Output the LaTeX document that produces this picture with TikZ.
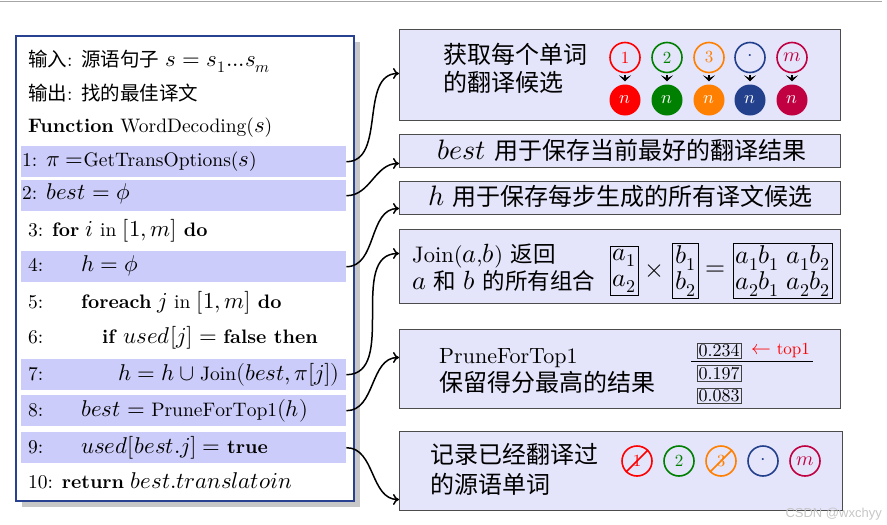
\documentclass[tikz,border=0pt]{standalone}
\usepackage{fontspec}
\usepackage{unicode-math}
\setmainfont{lmroman10-regular.otf}[BoldFont=lmroman10-bold.otf, ItalicFont=lmroman10-italic.otf, BoldItalicFont=lmroman10-bolditalic.otf]
\setmathfont{latinmodern-math.otf}[Scale=1.17]
\usetikzlibrary{arrows.meta}
\newfontfamily\cjk{Noto Sans CJK SC}
\newfontfamily\wmfont{Liberation Sans}
\definecolor{cred}{RGB}{255,0,0}
\definecolor{cgreen}{RGB}{0,128,0}
\definecolor{corange}{RGB}{255,128,0}
\definecolor{cblue}{RGB}{35,64,140}
\definecolor{ccrim}{RGB}{192,0,64}
\definecolor{bandc}{RGB}{204,204,250}
\definecolor{boxc}{RGB}{228,228,250}
\definecolor{framec}{RGB}{40,65,145}
\begin{document}
\begin{tikzpicture}[x=1pt,y=-1pt,
  L/.style={anchor=base west, inner sep=0pt, font=\fontsize{19.5}{24}\selectfont},
  R/.style={anchor=base west, inner sep=0pt, font=\fontsize{24}{28}\selectfont},
  Rs/.style={anchor=base west, inner sep=0pt, font=\fontsize{22.5}{26}\selectfont},
  band/.style={fill=bandc, draw=none, anchor=north west, minimum width=325pt, minimum height=31pt, inner sep=0pt},
  rbox/.style={fill=boxc, draw=black!70, line width=1pt, anchor=north west, inner sep=0pt},
  link/.style={-{To[length=6pt,width=11pt]}, line width=1.5pt, out=0, in=180},
  oc/.style={circle, draw=#1, text=#1, line width=1.6pt, minimum size=30pt, inner sep=0pt, font=\fontsize{17}{20}\selectfont},
  fc/.style={circle, fill=#1, text=white, minimum size=31pt, inner sep=0pt, font=\fontsize{15.5}{20}\selectfont},
  dn/.style={-{Stealth[length=6pt,width=12pt,inset=3pt]}, line width=1.8pt, shorten >=3pt, shorten <=2pt},
  mat/.style={draw=black, line width=0.8pt, inner sep=2.5pt, align=left, font=\fontsize{22}{26}\selectfont},
  score/.style={draw=black!75, line width=0.9pt, inner sep=1.5pt, minimum width=43pt, minimum height=15pt, font=\fontsize{18}{19}\selectfont},
]
\useasboundingbox (0,0) rectangle (887,525);
\draw[gray!70, line width=1.5pt] (0,1.5) -- (882,1.5);

% left panel
\fill[black!22] (22,42) rectangle (360,507);
\node[draw=framec, fill=white, line width=2pt, anchor=north west, minimum width=338pt, minimum height=465pt, inner sep=0pt] (algo) at (15,35) {};
\node[band] (r1) at (21,146) {};
\node[band] (r2) at (21,180) {};
\node[band] (r4) at (21,251) {};
\node[band] (r7) at (21,359) {};
\node[band] (r8) at (21,395) {};
\node[band] (r9) at (21,432) {};

\node[L] (l0) at (28,66.7) {{\cjk 输入}: {\cjk 源语句子} $s=s_1...s_m$};
\node[L] (l00) at (28,100) {{\cjk 输出}: {\cjk 找的最佳译文}};
\node[L] (lf) at (28,132.7) {\textbf{Function} WordDecoding($s$)};
\node[L] (l1) at (22,166.7) {1: $\pi =$GetTransOptions($s$)};
\node[L] (l2) at (22,199.3) {2: $best=\phi$};
\node[L] (l3) at (28,236) {3: \textbf{for} $i$ in $[1,m]$ \textbf{do}};
\node[L] (l4n) at (28,271.7) {4:};
\node[L] (l4) at (81,271.7) {$h=\phi$};
\node[L] (l5n) at (28,308.3) {5:};
\node[L] (l5) at (81,308.3) {\textbf{foreach} $j$ in $[1,m]$ \textbf{do}};
\node[L] (l6n) at (28,343.3) {6:};
\node[L] (l6) at (102,343.3) {\textbf{if} $used[j]=$ \textbf{false then}};
\node[L] (l7n) at (28,380) {7:};
\node[L, anchor=base east] (l7) at (340,380) {$h=h\cup\mathrm{Join}(best,\pi[j])$};
\node[L] (l8n) at (28,416.7) {8:};
\node[L] (l8) at (81,416.7) {$best=\mathrm{PruneForTop1}(h)$};
\node[L] (l9n) at (28,453.3) {9:};
\node[L] (l9) at (81,453.3) {$used[best.j]=$ \textbf{true}};
\node[L] (l10) at (28,488.3) {10: \textbf{return} $best.translatoin$};

% right boxes
\node[rbox, minimum width=441pt, minimum height=91pt] (b1) at (399,29) {};
\node[rbox, minimum width=441pt, minimum height=33pt] (b2) at (399,134) {};
\node[rbox, minimum width=441pt, minimum height=33pt] (b3) at (399,181) {};
\node[rbox, minimum width=441pt, minimum height=74pt] (b4) at (399,229) {};
\node[rbox, minimum width=441pt, minimum height=79pt] (b5) at (399,329) {};
\node[rbox, minimum width=443pt, minimum height=79pt] (b6) at (399,431) {};

% box 1
\node[R] (t1a) at (443,63) {\cjk 获取每个单词};
\node[R] (t1b) at (443,91) {\cjk 的翻译候选};
\node[oc=cred] (o1) at (625,57.5) {1};
\node[oc=cgreen] (o2) at (667,57.5) {2};
\node[oc=corange] (o3) at (709,57.5) {3};
\node[oc=cblue] (o4) at (750,57.5) {$\cdot$};
\node[oc=ccrim] (o5) at (792,57.5) {$m$};
\node[fc=cred] (f1) at (625,100) {$n$};
\node[fc=cgreen] (f2) at (667,100) {$n$};
\node[fc=corange] (f3) at (709,100) {$n$};
\node[fc=cblue] (f4) at (750,100) {$n$};
\node[fc=ccrim] (f5) at (792,100) {$n$};
\foreach \i in {1,...,5} {\draw[dn] (o\i.south) -- (f\i.north);}

% box 2, 3
\node[R] (t2) at (437,159) {$best$ {\cjk 用于保存当前最好的翻译结果}};
\node[R] (t3) at (428,205) {$h$ {\cjk 用于保存每步生成的所有译文候选}};

% box 4
\node[Rs] (t4a) at (412,262) {Join($a$,$b$) {\cjk 返回}};
\node[Rs] (t4b) at (412,289) {$a$ {\cjk 和} $b$ {\cjk 的所有组合}};
\node[mat] (m1) at (624,271) {$a_1$\\$a_2$};
\node[font=\fontsize{22}{26}\selectfont, inner sep=0pt] (x1) at (655,271) {$\times$};
\node[mat] (m2) at (685.5,271) {$b_1$\\$b_2$};
\node[font=\fontsize{22}{26}\selectfont, inner sep=0pt] (e1) at (716,271) {$=$};
\node[mat] (m3) at (783,271) {$a_1b_1\ a_1b_2$\\$a_2b_1\ a_2b_2$};

% box 5
\node[anchor=base west, inner sep=0pt, font=\fontsize{22}{26}\selectfont] (t5a) at (439,363.3) {PruneForTop1};
\node[R] (t5b) at (439,391) {\cjk 保留得分最高的结果};
\node[score] (s1) at (719,351) {0.234};
\node[score] (s2) at (719,373.5) {0.197};
\node[score] (s3) at (719,396) {0.083};
\coordinate (h1) at (691,361);
\coordinate (h2) at (813,361);
\draw[line width=0.9pt] (h1) -- (h2);
\node[anchor=west, inner sep=0pt, text=cred, font=\fontsize{17}{19}\selectfont] (tp) at (751,350) {$\leftarrow$ top1};

% box 6
\node[R] (t6a) at (430,463) {\cjk 记录已经翻译过};
\node[R] (t6b) at (430,493) {\cjk 的源语单词};
\node[oc=cred] (c1) at (637,461) {1};
\node[oc=cgreen] (c2) at (679,461) {2};
\node[oc=corange] (c3) at (721,461) {3};
\node[oc=cblue] (c4) at (763,461) {$\cdot$};
\node[oc=ccrim] (c5) at (805,461) {$m$};
\draw[cred, line width=1.6pt] (c1.north east) -- (c1.south west);
\draw[corange, line width=1.6pt] (c3.north east) -- (c3.south west);

% connectors
\draw[link] (r1.east) to ([yshift=1.5pt]b1.west);
\draw[link] (r2.east) to ([yshift=-12.5pt]b2.west);
\draw[link] (r4.east) to ([yshift=-10.5pt]b3.west);
\draw[link] (r7.east) to ([yshift=13pt]b4.west);
\draw[link] (r8.east) to ([yshift=11.5pt]b5.west);
\draw[link] (r9.east) to ([yshift=-28.5pt]b6.west);

\node[anchor=base east, inner sep=0pt, text=gray!45, font=\wmfont\fontsize{13}{15}\selectfont] (wm) at (882,517) {CSDN @wxchyy};
\end{tikzpicture}
\end{document}
